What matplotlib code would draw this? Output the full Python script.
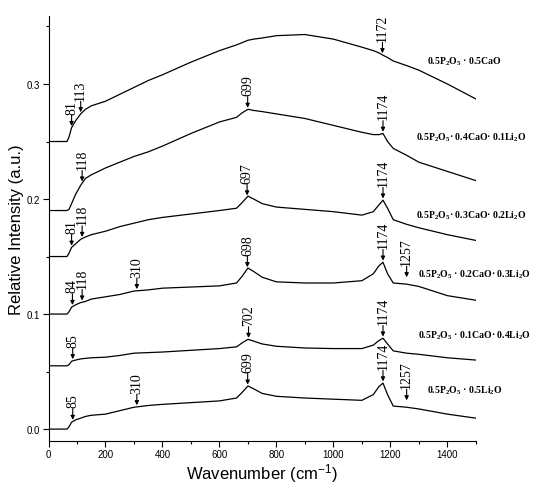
import numpy as np
import matplotlib
matplotlib.use("Agg")
import matplotlib.pyplot as plt
from matplotlib.ticker import MultipleLocator

plt.rcParams['font.family'] = ['Liberation Sans', 'DejaVu Sans']
plt.rcParams['mathtext.default'] = 'regular'

# wavenumber grid (cm-1) shared by the six spectra
wn = [0, 65, 72, 81, 95, 113, 130, 150, 200, 250, 300, 350, 400, 500, 600, 660, 680,
      700, 720, 750, 800, 900, 1000, 1100, 1140, 1160, 1174, 1190, 1210, 1257, 1300, 1400, 1500]

s_cao = [0.250, 0.250, 0.254, 0.262, 0.268, 0.274, 0.278, 0.281, 0.285, 0.291, 0.297, 0.303, 0.308,
         0.319, 0.329, 0.334, 0.336, 0.338, 0.339, 0.340, 0.342, 0.343, 0.339, 0.332, 0.329, 0.327,
         0.325, 0.323, 0.320, 0.316, 0.312, 0.300, 0.287]
s_li01 = [0.190, 0.190, 0.191, 0.196, 0.204, 0.212, 0.218, 0.221, 0.227, 0.232, 0.237, 0.241, 0.246,
          0.257, 0.267, 0.271, 0.275, 0.278, 0.277, 0.276, 0.274, 0.270, 0.264, 0.258, 0.256, 0.256,
          0.257, 0.250, 0.244, 0.238, 0.232, 0.224, 0.216]
s_li02 = [0.150, 0.150, 0.153, 0.158, 0.161, 0.165, 0.167, 0.169, 0.172, 0.176, 0.179, 0.182, 0.184,
          0.187, 0.190, 0.192, 0.197, 0.2025, 0.200, 0.196, 0.193, 0.191, 0.189, 0.186, 0.189, 0.195,
          0.199, 0.192, 0.182, 0.178, 0.175, 0.169, 0.164]
s_li03 = [0.100, 0.100, 0.102, 0.106, 0.108, 0.110, 0.111, 0.113, 0.115, 0.117, 0.120, 0.121, 0.1225,
          0.1235, 0.1245, 0.127, 0.133, 0.140, 0.137, 0.132, 0.128, 0.127, 0.127, 0.129, 0.135, 0.142,
          0.145, 0.135, 0.127, 0.126, 0.124, 0.116, 0.112]
s_li04 = [0.055, 0.055, 0.056, 0.059, 0.060, 0.061, 0.0615, 0.062, 0.0625, 0.064, 0.066, 0.0665, 0.067,
          0.0685, 0.070, 0.0715, 0.075, 0.078, 0.0765, 0.074, 0.072, 0.0705, 0.070, 0.070, 0.073, 0.077,
          0.079, 0.074, 0.068, 0.066, 0.065, 0.062, 0.060]
s_li05 = [0.000, 0.000, 0.002, 0.006, 0.008, 0.0095, 0.011, 0.012, 0.013, 0.016, 0.019, 0.0205, 0.0215,
          0.023, 0.0245, 0.027, 0.032, 0.0375, 0.035, 0.031, 0.0285, 0.027, 0.026, 0.025, 0.030, 0.037,
          0.040, 0.030, 0.020, 0.019, 0.0175, 0.013, 0.0095]

spectra = [s_cao, s_li01, s_li02, s_li03, s_li04, s_li05]
names = ['0.5P$_2$O$_5$ · 0.5CaO',
         '0.5P$_2$O$_5$· 0.4CaO· 0.1Li$_2$O',
         '0.5P$_2$O$_5$· 0.3CaO· 0.2Li$_2$O',
         '0.5P$_2$O$_5$ · 0.2CaO· 0.3Li$_2$O',
         '0.5P$_2$O$_5$ · 0.1CaO· 0.4Li$_2$O',
         '0.5P$_2$O$_5$ · 0.5Li$_2$O']
name_x = [1330, 1290, 1290, 1296, 1296, 1330]
name_y = [0.320, 0.254, 0.186, 0.135, 0.082, 0.034]

# marked band positions for each spectrum
bands = [[81, 113, 1172],
         [118, 699, 1174],
         [81, 118, 697, 1174],
         [84, 118, 310, 698, 1174, 1257],
         [85, 702, 1174],
         [85, 310, 699, 1174, 1257]]

fig = plt.figure(figsize=(5.42, 4.89), dpi=100)
ax = fig.add_axes([0.0895, 0.096, 0.7885, 0.869])

for s in spectra:
    ax.plot(wn, s, color='black', lw=0.9)

for s, bl in zip(spectra, bands):
    for b in bl:
        yb = np.interp(b, wn, s)
        gap = 5 if b == 1257 else 1.2
        ax.annotate('', xy=(b, yb), xytext=(0, gap + 8), textcoords='offset points',
                    xycoords='data',
                    arrowprops=dict(arrowstyle='-|>', color='black', lw=0.8,
                                    mutation_scale=6, shrinkA=0, shrinkB=gap))
        ax.annotate(str(b), xy=(b, yb), xytext=(0, gap + 9), textcoords='offset points',
                    rotation=90, ha='center', va='bottom', fontsize=10,
                    family=['Liberation Serif', 'DejaVu Serif'])

for nm, nx, ny in zip(names, name_x, name_y):
    ax.text(nx, ny, nm, fontsize=7, fontweight='bold', ha='left', va='center',
            family=['Liberation Serif', 'DejaVu Serif'], clip_on=False)

ax.set_xlim(0, 1500)
ax.set_ylim(-0.0104, 0.359)
ax.xaxis.set_major_locator(MultipleLocator(200))
ax.xaxis.set_minor_locator(MultipleLocator(100))
ax.yaxis.set_major_locator(MultipleLocator(0.1))
ax.yaxis.set_minor_locator(MultipleLocator(0.05))
ax.tick_params(which='major', direction='out', length=4, width=0.8, labelsize=7, pad=2)
ax.tick_params(which='minor', direction='out', length=2.5, width=0.8)
ax.spines['top'].set_visible(False)
ax.spines['right'].set_visible(False)
ax.set_xlabel('Wavenumber (cm$^{-1}$)', fontsize=12, labelpad=1)
ax.set_ylabel('Relative Intensity (a.u.)', fontsize=12, labelpad=2)

fig.savefig('out.png', dpi=100)
